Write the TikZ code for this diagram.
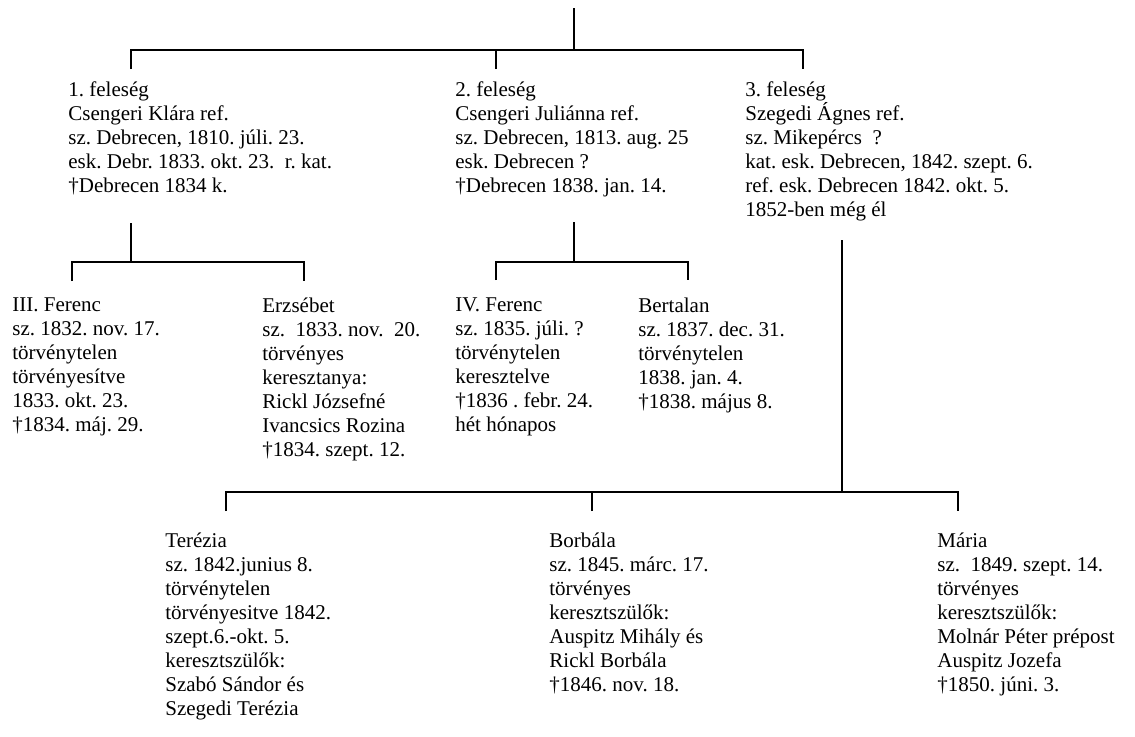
\documentclass[tikz,border=0pt]{standalone}
\usepackage{fontspec}
\setmainfont{Liberation Serif}
\usetikzlibrary{calc}
\frenchspacing

\begin{document}
\begin{tikzpicture}[x=0.5pt, y=-0.5pt]

\tikzstyle{person} = [anchor=north west, inner sep=0pt, align=left, font=\fontsize{10.5}{12}\selectfont]
\tikzstyle{line} = [line width=0.7pt]

\useasboundingbox (0,0) rectangle (1135,736);

% feleségek
\node (w1) [person] at (68,81.5) {1. feleség\\ Csengeri Klára ref.\\ sz. Debrecen, 1810. júli. 23.\\ esk. Debr. 1833. okt. 23.\ \ r. kat.\\ †Debrecen 1834 k.};
\node (w2) [person] at (455,81.5) {2. feleség\\ Csengeri Juliánna ref.\\ sz. Debrecen, 1813. aug. 25\\ esk. Debrecen ?\\ †Debrecen 1838. jan. 14.};
\node (w3) [person] at (745,81.5) {3. feleség\\ Szegedi Ágnes ref.\\ sz. Mikepércs\ \ ?\\ kat. esk. Debrecen, 1842. szept. 6.\\ ref. esk. Debrecen 1842. okt. 5.\\ 1852-ben még él};

% gyerekek
\node (c1a) [person] at (12,297.5) {III. Ferenc\\ sz. 1832. nov. 17.\\ törvénytelen\\ törvényesítve\\ 1833. okt. 23.\\ †1834. máj. 29.};
\node (c1b) [person] at (262,297.5) {Erzsébet\\ sz.\ \ 1833. nov.\ \ 20.\\ törvényes\\ keresztanya:\\ Rickl Józsefné\\ Ivancsics Rozina\\ †1834. szept. 12.};
\node (c2a) [person] at (455,297.5) {IV. Ferenc\\ sz. 1835. júli. ?\\ törvénytelen\\ keresztelve\\ †1836 . febr. 24.\\ hét hónapos};
\node (c2b) [person] at (638,297.5) {Bertalan\\ sz. 1837. dec. 31.\\ törvénytelen\\ 1838. jan. 4.\\ †1838. május 8.};
\node (c3a) [person] at (165,532.5) {Terézia\\ sz. 1842.junius 8.\\ törvénytelen\\ törvényesitve 1842.\\ szept.6.-okt. 5.\\ keresztszülők:\\ Szabó Sándor és\\ Szegedi Terézia};
\node (c3b) [person] at (549,532.5) {Borbála\\ sz. 1845. márc. 17.\\ törvényes\\ keresztszülők:\\ Auspitz Mihály és\\ Rickl Borbála\\ †1846. nov. 18.};
\node (c3c) [person] at (937,532.5) {Mária\\ sz.\ \ 1849. szept. 14.\\ törvényes\\ keresztszülők:\\ Molnár Péter prépost\\ Auspitz Jozefa\\ †1850. júni. 3.};

\coordinate (root) at (574,8);
\coordinate (w1up) at (131,69);
\coordinate (w2up) at (496,69);
\coordinate (w3up) at (803,69);
\coordinate (f1) at (131,223);
\coordinate (c1aup) at (72,281);
\coordinate (c1bup) at (304,281);
\coordinate (f2) at (574,222);
\coordinate (c2aup) at (496,280);
\coordinate (c2bup) at (688,280);
\coordinate (f3) at (842,240);
\coordinate (c3aup) at (226,511);
\coordinate (c3bup) at (592,511);
\coordinate (c3cup) at (958,511);

\draw [line] (root) -- ++(0,42);
\draw [line] (w1up) -- ++(0,-19) -| (w3up);
\draw [line] (w2up) -- ++(0,-19);
\draw [line] (f1) -- ++(0,39);
\draw [line] (c1aup) -- ++(0,-19) -| (c1bup);
\draw [line] (f2) -- ++(0,41);
\draw [line] (c2aup) -- ++(0,-18) -| (c2bup);
\draw [line] (f3) -- ++(0,252);
\draw [line] (c3aup) -- ++(0,-19) -| (c3cup);
\draw [line] (c3bup) -- ++(0,-19);
\end{tikzpicture}
\end{document}
